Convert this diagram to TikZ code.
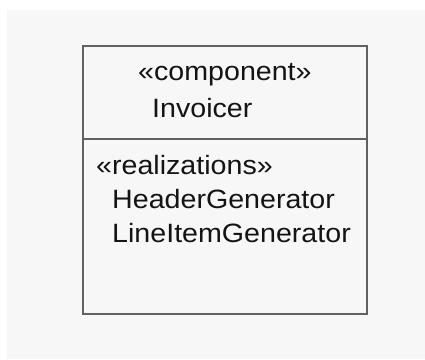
\documentclass[tikz,border=0pt]{standalone}
\usepackage{fontspec}
\setmainfont{Liberation Sans}[FakeStretch=1.08]
\begin{document}
\begin{tikzpicture}[x=1pt,y=-1pt,
  txt/.style={inner sep=0pt, anchor=base west, text=black!92, font=\fontsize{26.5}{30}\selectfont},
  boxline/.style={draw=black!62, line width=1.8pt}]
\useasboundingbox (0,0) rectangle (425,359);
\fill[white] (0,0) rectangle (425,359);
\fill[black!3] (7,10) rectangle (425,359);
\node[boxline, fill=black!3, inner sep=0pt, minimum width=284pt, minimum height=268pt, anchor=north west] (comp) at (82,45) {};
\coordinate (dl) at (82,139);
\coordinate (dr) at (366,139);
\draw[boxline] (dl) -- (dr);
\node[txt] (st) at (138,80) {«component»};
\node[txt] (nm) at (152,117) {Invoicer};
\node[txt] (rl) at (96,174) {«realizations»};
\node[txt] (hg) at (112,208) {HeaderGenerator};
\node[txt] (lg) at (112,242) {LineItemGenerator};
\end{tikzpicture}
\end{document}
